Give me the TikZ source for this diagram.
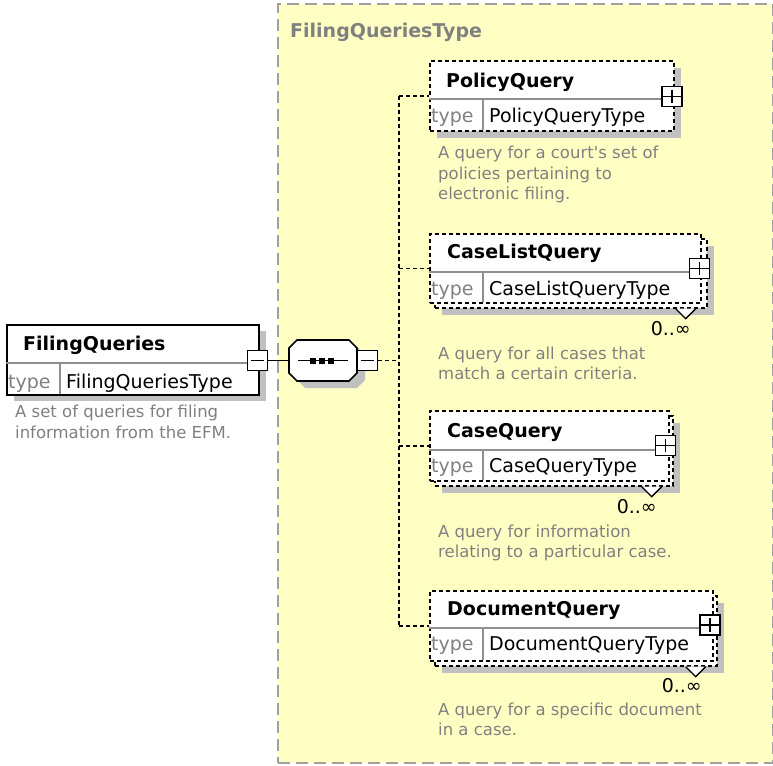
\documentclass[tikz,border=0pt]{standalone}
\usepackage{fontspec}
\setmainfont{DejaVu Sans}

\definecolor{yellowbg}{HTML}{FFFFC4}
\definecolor{boxgray}{HTML}{A0A0A0}
\definecolor{textgray}{HTML}{808080}
\definecolor{shadowgray}{HTML}{C0C0C0}
\definecolor{sepgray}{HTML}{909090}

\tikzset{
	elembox/.style={draw, fill=white, line width=1.7pt, inner sep=0pt, anchor=north west},
	optbox/.style={elembox, dash pattern=on 4pt off 3pt},
	dropshadow/.style={fill=shadowgray, inner sep=0pt, anchor=north west},
	pmbox/.style={draw, fill=white, line width=1.6pt, minimum size=20pt, inner sep=0pt},
	pmsign/.style={line width=1.6pt, shorten <=4pt, shorten >=4pt},
	sepline/.style={draw=sepgray, line width=1.2pt},
	conn/.style={line width=1.6pt},
	optconn/.style={conn, dash pattern=on 4pt off 3pt},
	elemname/.style={font=\bfseries\fontsize{19}{23}\selectfont, anchor=base west, inner sep=0pt},
	typelbl/.style={font=\fontsize{19}{23}\selectfont, text=textgray, anchor=base west, inner sep=0pt},
	typename/.style={font=\fontsize{19}{23}\selectfont, anchor=base west, inner sep=0pt},
	occurs/.style={font=\fontsize{19}{23}\selectfont, anchor=base east, inner sep=0pt},
	annot/.style={font=\fontsize{16.5}{20.5}\selectfont, text=textgray, align=left, anchor=north west, inner sep=0pt},
	notch/.style={line width=1.4pt, fill=white}
}

\begin{document}
\begin{tikzpicture}[x=1pt, y=-1pt]
			\useasboundingbox (0,0) rectangle (773,765);

			% complex type area
			\node[draw=boxgray, fill=yellowbg, line width=2.2pt, dash pattern=on 12pt off 6pt,
				minimum width=495pt, minimum height=759pt, inner sep=0pt, anchor=north west] (fqtype) at (277,3) {};
			\node[font=\bfseries\fontsize{19}{23}\selectfont, text=textgray, anchor=base west, inner sep=0pt] (fqtype title) at (290,38) {FilingQueriesType};

			% root element
			\node[dropshadow, minimum width=252pt, minimum height=70pt] (fq shadow) at (14,331) {};
			\node[elembox, minimum width=252pt, minimum height=70pt] (fq) at (6,324) {};
			\draw[sepline] (6,363) -- (258,363);
			\draw[sepline] (60,363) -- (60,394);
			\node[elemname] (fq name) at (23,350) {FilingQueries};
			\node[typelbl] (fq typelbl) at (8,388) {type};
			\node[typename] (fq typename) at (66,388) {FilingQueriesType};
			\node[annot] (fq annot) at (15,405) {A set of queries for filing\\information from the EFM.};
			\node[pmbox] (fq minus) at (257.5,360.5) {};
			\draw[pmsign] (fq minus.west) -- (fq minus.east);

			% sequence
			\node[inner sep=0pt, minimum width=68pt, minimum height=41pt] (seq) at (323,360.5) {};
			\fill[shadowgray, shift={(8,7)}] (297,340) -- (349,340) -- (357,348) -- (357,373) -- (349,381) -- (297,381) -- (289,373) -- (289,348) -- cycle;
			\draw[line width=1.6pt, fill=white] (297,340) -- (349,340) -- (357,348) -- (357,373) -- (349,381) -- (297,381) -- (289,373) -- (289,348) -- cycle;
			\draw[line width=1.6pt] (298,360.5) -- (348,360.5);
			\foreach \x in {313,322,331}
				\fill (\x-3,357.5) rectangle (\x+3,363.5);
			\node[pmbox] (seq minus) at (367.5,360.5) {};
			\draw[pmsign] (seq minus.west) -- (seq minus.east);
			\draw[conn] (fq minus.east) -- (seq.west);

			% PolicyQuery
			\node[dropshadow, minimum width=244pt, minimum height=70pt] (pq shadow) at (437,68) {};
			\node[optbox, minimum width=244pt, minimum height=70pt] (pq) at (429,60) {};
			\draw[sepline] (429,99) -- (673,99);
			\draw[sepline] (483,99) -- (483,130);
			\node[elemname] (pq name) at (446,88) {PolicyQuery};
			\node[typelbl] (pq typelbl) at (431,123) {type};
			\node[typename] (pq typename) at (489,123) {PolicyQueryType};
			\node[pmbox] (pq plus) at (672,96.5) {};
			\draw[pmsign] (pq plus.west) -- (pq plus.east) (pq plus.north) -- (pq plus.south);
			\node[annot] (pq annot) at (438,146) {A query for a court\textquotesingle s set of\\policies pertaining to\\electronic filing.};

			% CaseListQuery
			\node[dropshadow, minimum width=272pt, minimum height=69pt] (clq shadow) at (442,246) {};
			\node[optbox, minimum width=272pt, minimum height=69pt] (clq back) at (434,238) {};
			\node[optbox, minimum width=271pt, minimum height=69pt] (clq) at (429,233) {};
			\draw[sepline] (429,272) -- (700,272);
			\draw[sepline] (483,272) -- (483,302);
			\node[elemname] (clq name) at (447,258) {CaseListQuery};
			\node[typelbl] (clq typelbl) at (431,295) {type};
			\node[typename] (clq typename) at (489,295) {CaseListQueryType};
			\node[pmbox] (clq plus) at (699.5,268.5) {};
			\draw[pmsign] (clq plus.west) -- (clq plus.east) (clq plus.north) -- (clq plus.south);
			\draw[notch] (clq back.south east) ++(-32,0) -- ++(10,10) -- ++(10,-10);
			\node[occurs] (clq occurs) at (691,335) {0..∞};
			\node[annot] (clq annot) at (438,346.5) {A query for all cases that\\match a certain criteria.};

			% CaseQuery
			\node[dropshadow, minimum width=238pt, minimum height=70pt] (cq shadow) at (442,423) {};
			\node[optbox, minimum width=238pt, minimum height=70pt] (cq back) at (434,415) {};
			\node[optbox, minimum width=239pt, minimum height=70pt] (cq) at (429,410) {};
			\draw[sepline] (429,450) -- (668,450);
			\draw[sepline] (483,450) -- (483,480);
			\node[elemname] (cq name) at (447,437) {CaseQuery};
			\node[typelbl] (cq typelbl) at (431,472) {type};
			\node[typename] (cq typename) at (489,472) {CaseQueryType};
			\node[pmbox] (cq plus) at (665.5,445.5) {};
			\draw[pmsign] (cq plus.west) -- (cq plus.east) (cq plus.north) -- (cq plus.south);
			\draw[notch] (cq back.south east) ++(-32,0) -- ++(10,10) -- ++(10,-10);
			\node[occurs] (cq occurs) at (657,513) {0..∞};
			\node[annot] (cq annot) at (438,524.5) {A query for information\\relating to a particular case.};

			% DocumentQuery
			\node[dropshadow, minimum width=282pt, minimum height=70pt] (dq shadow) at (442,603) {};
			\node[optbox, minimum width=282pt, minimum height=70pt] (dq back) at (434,595) {};
			\node[optbox, minimum width=283pt, minimum height=70pt] (dq) at (429,590) {};
			\draw[sepline] (429,628) -- (712,628);
			\draw[sepline] (483,628) -- (483,660);
			\node[elemname] (dq name) at (447,615) {DocumentQuery};
			\node[typelbl] (dq typelbl) at (431,650) {type};
			\node[typename] (dq typename) at (489,650) {DocumentQueryType};
			\node[pmbox] (dq plus) at (710,625) {};
			\draw[pmsign] (dq plus.west) -- (dq plus.east) (dq plus.north) -- (dq plus.south);
			\draw[notch] (dq back.south east) ++(-32,0) -- ++(10,10) -- ++(10,-10);
			\node[occurs] (dq occurs) at (702,692) {0..∞};
			\node[annot] (dq annot) at (438,702.5) {A query for a specific document\\in a case.};

			% connectors to the children
			\coordinate (trunk) at (399,360.5);
			\draw[optconn] (seq minus.east) -- (trunk);
			\draw[optconn] (pq.west -| trunk) -- (dq.west -| trunk);
			\foreach \e in {pq,clq,cq,dq}
				\draw[optconn] (\e.west -| trunk) -- (\e.west);

		\end{tikzpicture}
\end{document}
